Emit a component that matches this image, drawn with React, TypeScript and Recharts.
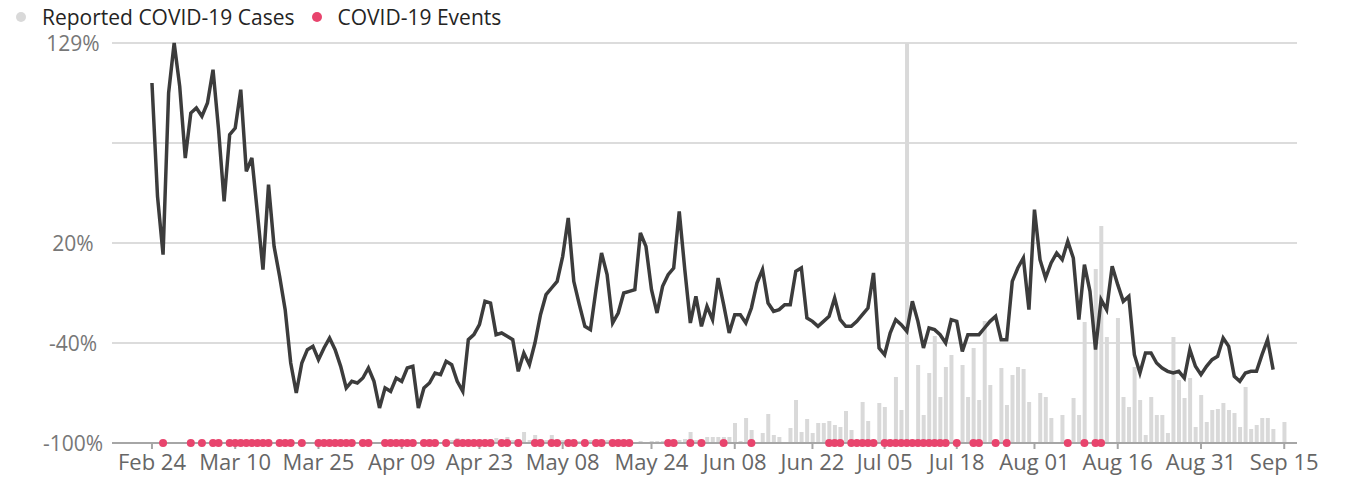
import {
  ComposedChart,
  Bar,
  Line,
  XAxis,
  YAxis,
  CartesianGrid,
  Legend,
} from 'recharts';

const FONT = "'Segoe UI', 'Open Sans', sans-serif";

// day 0 = Feb 24
const tickDays = [0, 15, 30, 45, 59, 74, 90, 105, 119, 132, 145, 159, 174, 189, 204];
const tickLabels = [
  'Feb 24', 'Mar 10', 'Mar 25', 'Apr 09', 'Apr 23', 'May 08', 'May 24', 'Jun 08',
  'Jun 22', 'Jul 05', 'Jul 18', 'Aug 01', 'Aug 16', 'Aug 31', 'Sep 15',
];

const pctTicks = [-100, -40, 20, 80, 140];
const pctTickLabels = ['-100%', '-40%', '20%', '', '129%'];

// % change line, one value per day from Feb 24
const changePct = [
  116, 48, 13, 110, 140, 114, 71, 98, 101, 96,
  104, 124, 88, 45, 85, 89, 112, 63, 71, 38,
  4, 55, 18, 0, -20, -52, -70, -52, -44, -42,
  -50, -43, -37, -44, -54, -67, -63, -64, -61, -55,
  -63, -79, -67, -69, -61, -63, -55, -54, -79, -67,
  -64, -58, -59, -51, -53, -63, -69, -38, -35, -29,
  -15, -16, -35, -34, -36, -38, -57, -46, -53, -40,
  -23, -11, -7, -3, 12, 35, -3, -17, -30, -32,
  -8, 14, 1, -28, -22, -10, -9, -8, 26, 18,
  -8, -22, -6, 1, 5, 39, 4, -28, -12, -30,
  -18, -26, -1, -17, -34, -23, -23, -28, -19, -4,
  4, -16, -21, -20, -17, -17, 3, 5, -25, -27,
  -30, -27, -24, -13, -26, -30, -30, -27, -23, -19,
  2, -43, -47, -34, -26, -29, -33, -15, -27, -43,
  -31, -32, -35, -40, -26, -27, -45, -35, -35, -35,
  -31, -27, -24, -38, -38, -3, 5, 11, -20, 40,
  10, -1, 8, 14, 10, 21, 11, -26, 7, -9,
  -44, -14, -20, 6, -5, -15, -12, -47, -58, -46,
  -46, -52, -55, -57, -58, -57, -61, -44, -54, -59,
  -54, -50, -48, -37, -42, -60, -63, -58, -57, -57,
  -47, -38, -56,
];

// reported cases per day from Feb 24 to Sep 15
const reportedCases = [
  0, 0, 0, 0, 0, 0, 0, 0, 0, 0,
  0, 0, 0, 0, 0, 0, 0, 0, 0, 0,
  0, 0, 0, 0, 0, 0, 0, 0, 0, 0,
  0, 0, 0, 0, 0, 0, 0, 0, 0, 0,
  0, 0, 0, 0, 0, 0, 0, 0, 0, 0,
  0, 0, 0, 0,
  30, 50, 20, 20, 30, 20, 30, 40, 50, 30,
  60, 30, 40, 110, 30, 80, 40, 30, 80, 30,
  30, 20, 30, 20, 20, 30, 20, 30, 30, 20,
  30, 30, 20, 10, 20, 10, 20, 20, 20, 30,
  30, 30, 40, 110, 30, 30, 60, 60, 60, 60,
  60, 200, 20, 250, 130, 10, 100, 290, 80, 60,
  10, 150, 430, 110, 240, 100, 200, 200, 220, 180,
  160, 320, 130, 10, 410, 220, 10, 400, 360, 10,
  660, 330, 4000, 10, 780, 280, 700, 1070, 460, 760,
  880, 0, 780, 460, 950, 430, 1220, 580, 0, 750,
  380, 680, 760, 740, 410, 0, 500, 460, 250, 0,
  280, 0, 450, 280, 1210, 0, 1740, 2170, 1060, 0,
  1250, 460, 360, 760, 430, 80, 460, 280, 280, 100,
  1060, 630, 450, 650, 160, 480, 210, 330, 340, 400,
  330, 300, 160, 560, 140, 180, 250, 250, 140, 0,
  210,
];

// days with a COVID-19 event
const eventDays = [
  2, 7, 9, 11, 12, 14, 15, 16, 17, 18, 19, 20, 21, 23, 24, 25, 27,
  30, 31, 32, 33, 34, 35, 36, 38, 39, 42, 43, 44, 45, 46, 47, 49, 50, 51, 53,
  55, 56, 57, 58, 59, 60, 61, 63, 64, 66, 69, 70, 72, 73, 75, 76, 78, 80, 81,
  83, 84, 85, 86, 93, 94, 97, 99, 103, 108, 122, 123, 124,
  126, 127, 128, 129, 130, 132, 133, 134, 135, 136, 137, 138, 139, 140, 141, 142, 143,
  145, 148, 149, 152, 154, 165, 168, 170, 171,
];

const data = reportedCases.map((cases, day) => ({
  day,
  cases,
  change: day < changePct.length ? changePct[day] : null,
  event: eventDays.includes(day) ? -100 : null,
}));

const CASES_COLOR = '#d9d9d9';
const EVENT_COLOR = '#e8446d';

function PctTick({ y, payload }: any) {
  return (
    <text
      x={73}
      y={y}
      textAnchor="middle"
      dominantBaseline="central"
      fill="#777"
      fontSize={21}
      fontFamily={FONT}
    >
      {pctTickLabels[pctTicks.indexOf(payload.value)]}
    </text>
  );
}

function LegendRow() {
  const dot = (color: string) => (
    <span
      style={{
        width: 10,
        height: 10,
        borderRadius: '50%',
        background: color,
        display: 'inline-block',
        marginRight: 16,
      }}
    />
  );
  return (
    <div
      style={{
        height: 43,
        display: 'flex',
        alignItems: 'flex-start',
        fontFamily: FONT,
        fontSize: 21,
        lineHeight: 1,
        color: '#252423',
      }}
    >
      <div style={{ display: 'flex', alignItems: 'center', height: 34, paddingLeft: 16 }}>
        {dot(CASES_COLOR)}
        <span style={{ marginRight: 17 }}>Reported COVID-19 Cases</span>
        {dot(EVENT_COLOR)}
        <span>COVID-19 Events</span>
      </div>
    </div>
  );
}

export default function App() {
  return (
    <div style={{ position: 'absolute', left: 0, top: 0 }}>
      <ComposedChart
        width={1345}
        height={478}
        data={data}
        margin={{ top: 0, right: 48, bottom: 0, left: 0 }}
      >
        <CartesianGrid vertical={false} stroke="#dcdcdc" strokeWidth={2} />
        <XAxis
          dataKey="day"
          type="number"
          domain={[-7.2, 206.3]}
          ticks={tickDays}
          interval={0}
          tickFormatter={(d: number) => tickLabels[tickDays.indexOf(d)]}
          height={35}
          stroke="#a6a6a6"
          strokeWidth={2}
          tickSize={6}
          tickMargin={5}
          tick={{ fill: '#666', fontSize: 22, fontFamily: FONT }}
        />
        <YAxis
          type="number"
          domain={[-100, 140]}
          ticks={pctTicks}
          width={112}
          axisLine={false}
          tickLine={false}
          tick={<PctTick />}
        />
        <YAxis yAxisId="cases" orientation="right" hide domain={[0, 4000]} allowDataOverflow />
        <Legend verticalAlign="top" align="left" content={<LegendRow />} />
        <Bar
          dataKey="cases"
          yAxisId="cases"
          fill={CASES_COLOR}
          barSize={4}
          isAnimationActive={false}
        />
        <Line
          dataKey="change"
          type="linear"
          stroke="#3c3c3c"
          strokeWidth={3.5}
          dot={false}
          isAnimationActive={false}
        />
        <Line
          dataKey="event"
          stroke="none"
          dot={{ r: 4, fill: EVENT_COLOR, stroke: 'none' }}
          activeDot={false}
          isAnimationActive={false}
        />
      </ComposedChart>
    </div>
  );
}
